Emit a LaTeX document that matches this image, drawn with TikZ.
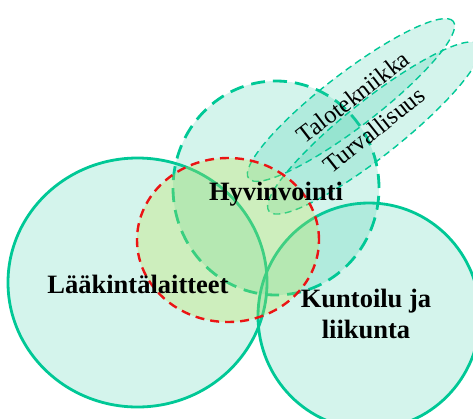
\documentclass[tikz,border=0pt]{standalone}
\usepackage{fontspec}
\setmainfont{Liberation Serif}
\definecolor{lineteal}{RGB}{0,200,150}
\definecolor{fillteal}{RGB}{40,200,160}
\definecolor{reddash}{RGB}{235,20,20}
\definecolor{yelgreen}{RGB}{190,225,80}
\begin{document}
\begin{tikzpicture}[x=1pt,y=-1pt,
  area/.style={fill=fillteal,fill opacity=0.2},
  solidline/.style={draw=lineteal,line width=2.8pt},
  thickdash/.style={draw=lineteal,line width=2.8pt,dash pattern=on 14pt off 8pt},
  thindash/.style={draw=lineteal,line width=1.4pt,dash pattern=on 7pt off 4.5pt},
  redline/.style={draw=reddash,line width=2.4pt,dash pattern=on 9pt off 6pt},
  bigtext/.style={font=\fontsize{26.5}{29}\selectfont\bfseries,inner sep=0pt},
  rottext/.style={font=\fontsize{24.5}{27}\selectfont,inner sep=0pt}]
\useasboundingbox (0,0) rectangle (473,418);
\clip (0,0) rectangle (473,418);
% left circle
\path[area,solidline] (137.5,282.5) ellipse [x radius=129.5pt, y radius=124.5pt];
% right circle
\path[area,solidline] (369,316) ellipse [x radius=111pt, y radius=113pt];
% Hyvinvointi dashed ellipse
\path[area,thickdash] (276,188) ellipse [x radius=103pt, y radius=107pt];
% Talotekniikka ellipse
\path[area,thindash,rotate around={37.5:(351,100)}] (351,100) ellipse [x radius=129pt, y radius=27pt];
% Turvallisuus ellipse
\path[area,thindash,rotate around={38.4:(374,128)}] (374,128) ellipse [x radius=134pt, y radius=28pt];
% red dashed circle
\path[fill=yelgreen,fill opacity=0.3,redline] (228,240) ellipse [x radius=91pt, y radius=82pt];
% labels
\node[bigtext,anchor=base] (hyv) at (276,200) {Hyvinvointi};
\node[bigtext,anchor=base] (laak) at (138,293) {Lääkintälaitteet};
\node[bigtext,anchor=base] (kunt) at (366,307) {Kuntoilu ja};
\node[bigtext,anchor=base] (liik) at (366,338) {liikunta};
\node[rottext,rotate=37.5] (talo) at (353,97) {Talotekniikka};
\node[rottext,rotate=38.4] (turv) at (374,130) {Turvallisuus};
\end{tikzpicture}
\end{document}
